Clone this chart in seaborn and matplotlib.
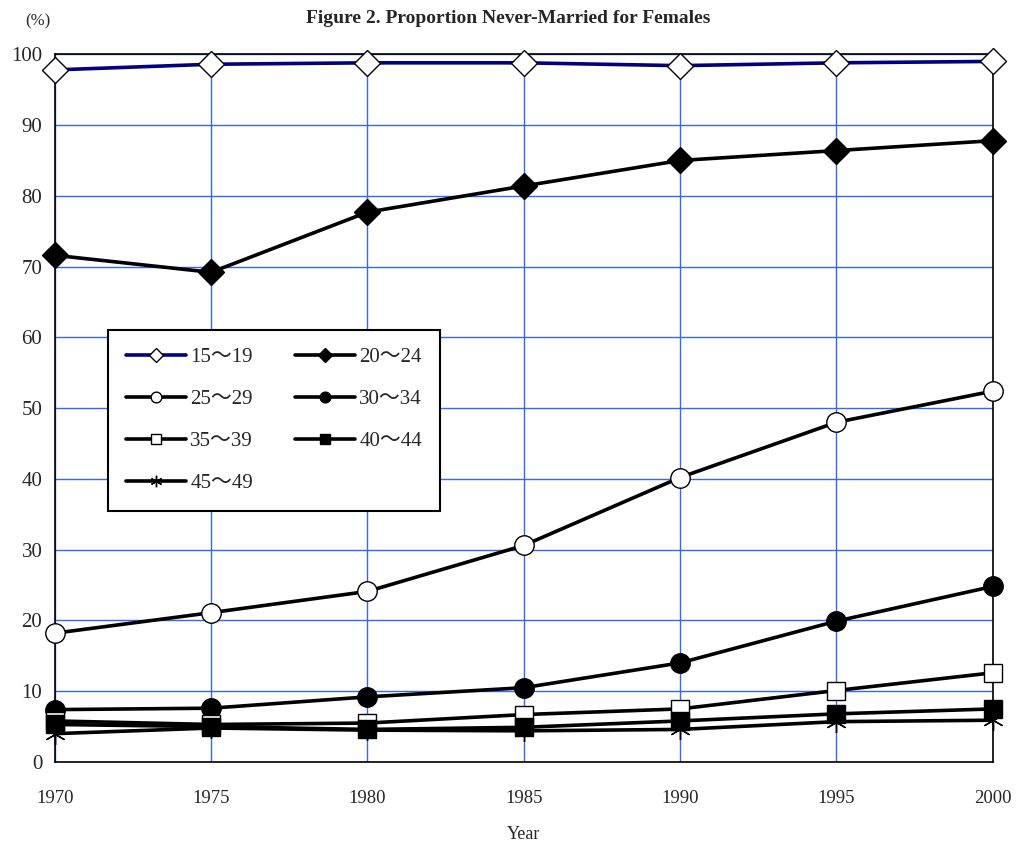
import matplotlib
matplotlib.use("Agg")
import matplotlib.pyplot as plt
import seaborn as sns
import pandas as pd

years = [1970, 1975, 1980, 1985, 1990, 1995, 2000]
age_groups = ["15～19", "20～24", "25～29", "30～34", "35～39", "40～44", "45～49"]
v15_19 = [97.8, 98.6, 98.8, 98.8, 98.4, 98.8, 99.0]
v20_24 = [71.6, 69.2, 77.7, 81.4, 85.0, 86.4, 87.8]
v25_29 = [18.2, 21.1, 24.1, 30.6, 40.2, 48.0, 52.4]
v30_34 = [7.4, 7.6, 9.2, 10.5, 14.0, 19.9, 24.8]
v35_39 = [5.8, 5.3, 5.5, 6.7, 7.5, 10.1, 12.6]
v40_44 = [5.3, 5.0, 4.6, 4.9, 5.8, 6.8, 7.5]
v45_49 = [4.0, 4.8, 4.5, 4.4, 4.6, 5.7, 5.9]
series = [v15_19, v20_24, v25_29, v30_34, v35_39, v40_44, v45_49]

styles = [
    dict(color="#000080", marker="D", mfc="white", ms=13),
    dict(color="black", marker="D", mfc="black", ms=13),
    dict(color="black", marker="o", mfc="white", ms=14),
    dict(color="black", marker="o", mfc="black", ms=14),
    dict(color="black", marker="s", mfc="white", ms=13),
    dict(color="black", marker="s", mfc="black", ms=13),
    dict(color="black", marker=(6, 2, 0), mfc="black", ms=15),
]

sns.set_theme(style="white")
plt.rcParams['font.family'] = ['Liberation Serif', 'Noto Sans CJK JP']

fig = plt.figure(figsize=(10.16, 8.49), dpi=100)
ax = fig.add_axes([0.054, 0.1025, 0.923, 0.8335])

for name, vals, st in zip(age_groups, series, styles):
    df = pd.DataFrame({"Year": years, "Value": vals})
    sns.lineplot(data=df, x="Year", y="Value", ax=ax, color=st["color"],
                 linewidth=2.6, marker=st["marker"], markersize=st["ms"],
                 markerfacecolor=st["mfc"], markeredgecolor="black",
                 markeredgewidth=1.0, label=name, zorder=3, clip_on=False)

ax.set_xlim(1970, 2000)
ax.set_ylim(0, 100)
ax.set_xticks(years)
ax.set_yticks(range(0, 101, 10))
ax.grid(True, color="#3366ff", linewidth=1.0)
ax.set_axisbelow(True)
for s in ax.spines.values():
    s.set_color("black")
    s.set_linewidth(1.2)
ax.tick_params(axis="x", labelsize=13.5, pad=20, length=0)
ax.tick_params(axis="y", labelsize=15, pad=9, length=0)
ax.set_xlabel("Year", fontsize=13, labelpad=14)
ax.set_ylabel("")

fig.text(0.5, 0.978, "Figure 2. Proportion Never-Married for Females",
         ha="center", va="center", fontsize=14, fontweight="bold")
fig.text(0.037, 0.975, "(%)", ha="center", va="center", fontsize=12)

handles, labels = ax.get_legend_handles_labels()
order = [0, 2, 4, 6, 1, 3, 5]
leg = ax.legend([handles[i] for i in order], [labels[i] for i in order],
                loc="upper left", bbox_to_anchor=(0.0565, 0.611), ncol=2,
                fontsize=15, frameon=True, fancybox=False, edgecolor="black",
                framealpha=1.0, borderaxespad=0.0,
                handlelength=2.9, columnspacing=2.0, labelspacing=1.08,
                borderpad=0.85, handletextpad=0.2, markerscale=0.55)
leg.get_frame().set_linewidth(1.5)
leg.set_zorder(5)

fig.savefig("out.png", dpi=100, facecolor="white")
